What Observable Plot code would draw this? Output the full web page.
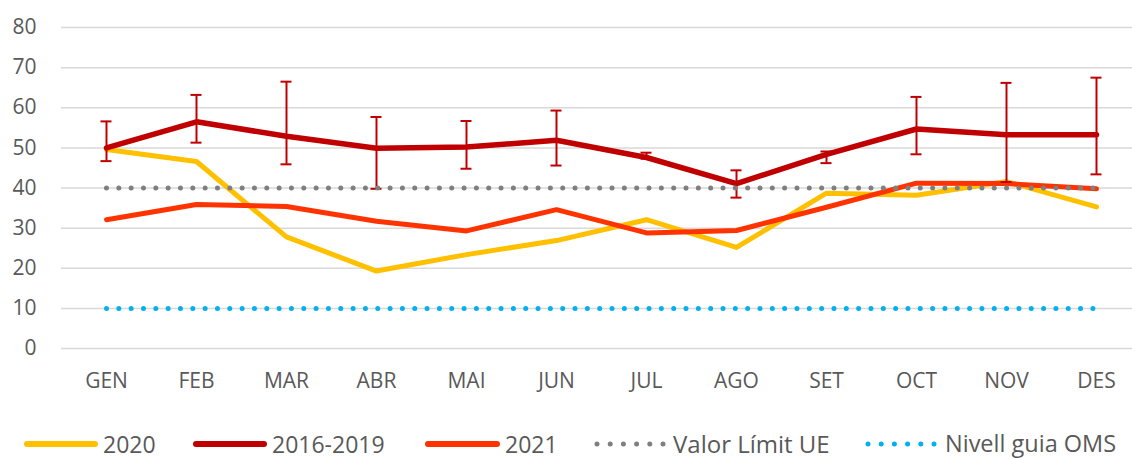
<!DOCTYPE html>
<html>
<head>
<meta charset="utf-8">
<script src="https://cdn.jsdelivr.net/npm/d3@7"></script>
<script src="https://cdn.jsdelivr.net/npm/@observablehq/plot@0.6"></script>
<style>
  html, body { margin: 0; padding: 0; background: #fff; }
  #wrap { width: 1132px; height: 459px; position: relative; font-family: "Open Sans", sans-serif; color: #595959; }
  #legend { position: relative; height: 34px; top: 2px; }
  .item { position: absolute; top: 0; height: 34px; display: flex; align-items: center; }
  .item svg { display: block; }
  .lab { font-size: 23px; line-height: 1; color: #595959; white-space: nowrap; }
</style>
</head>
<body>
<div id="wrap">
  <div id="chart"></div>
  <div id="legend"></div>
</div>
<script>
const months = ["GEN","FEB","MAR","ABR","MAI","JUN","JUL","AGO","SET","OCT","NOV","DES"];
const yTicks = [0, 10, 20, 30, 40, 50, 60, 70, 80];
const v2020 = [49.6, 46.6, 27.8, 19.3, 23.4, 26.9, 32.1, 25.2, 38.7, 38.2, 41.6, 35.3];
const v1619 = [50.0, 56.5, 52.9, 49.9, 50.2, 51.9, 47.6, 41.1, 48.4, 54.7, 53.3, 53.3];
const errLow = [46.7, 51.3, 45.9, 39.8, 44.8, 45.6, 47.3, 37.6, 46.2, 48.4, 41.5, 43.4];
const errHigh = [56.6, 63.2, 66.5, 57.7, 56.7, 59.3, 48.8, 44.4, 49.1, 62.7, 66.2, 67.5];
const v2021 = [32.1, 35.9, 35.4, 31.7, 29.3, 34.6, 28.8, 29.4, 35.2, 41.2, 41.1, 39.8];
const limitUE = 40;
const guiaOMS = 10;

const seriesNames = ["2020", "2016-2019", "2021", "Valor Límit UE", "Nivell guia OMS"];
const colors = ["#FFC000", "#C00000", "#FF3300", "#7F7F7F", "#00B0F0"];

const rows = (vals) => months.map((m, i) => ({month: m, value: vals[i]}));
const errRows = months.map((m, i) => ({month: m, lo: errLow[i], hi: errHigh[i]}));
const ueRows = months.map(m => ({month: m, value: limitUE}));
const omsRows = months.map(m => ({month: m, value: guiaOMS}));

const chart = Plot.plot({
  width: 1132,
  height: 425,
  marginLeft: 61,
  marginRight: 0,
  marginTop: 27,
  marginBottom: 77,
  style: {fontFamily: "'Open Sans', sans-serif", color: "#595959", background: "#fff"},
  x: {type: "point", domain: months, range: [106, 1096], padding: 0},
  y: {domain: [0, 80]},
  marks: [
    Plot.gridY(yTicks, {stroke: "#D9D9D9", strokeOpacity: 1, strokeWidth: 1.5}),
    Plot.axisY(yTicks, {tickSize: 0, tickPadding: 25, fontSize: 21, fill: "#595959", label: null}),
    Plot.axisX({tickSize: 0, tickPadding: 24.5, fontSize: 21, fill: "#595959", label: null}),
    Plot.line(rows(v2020), {x: "month", y: "value", stroke: colors[0], strokeWidth: 5, strokeLinejoin: "round", strokeLinecap: "round"}),
    Plot.line(rows(v1619), {x: "month", y: "value", stroke: colors[1], strokeWidth: 5.5, strokeLinejoin: "round", strokeLinecap: "round"}),
    Plot.line(rows(v2021), {x: "month", y: "value", stroke: colors[2], strokeWidth: 5, strokeLinejoin: "round", strokeLinecap: "round"}),
    Plot.ruleX(errRows, {x: "month", y1: "lo", y2: "hi", stroke: colors[1], strokeWidth: 2}),
    Plot.ruleY(errRows, {x1: "month", x2: "month", y: "lo", stroke: colors[1], strokeWidth: 2, insetLeft: -5.5, insetRight: -5.5}),
    Plot.ruleY(errRows, {x1: "month", x2: "month", y: "hi", stroke: colors[1], strokeWidth: 2, insetLeft: -5.5, insetRight: -5.5}),
    Plot.line(ueRows, {x: "month", y: "value", stroke: colors[3], strokeWidth: 5, strokeLinecap: "round", strokeDasharray: "0 12.33"}),
    Plot.line(omsRows, {x: "month", y: "value", stroke: colors[4], strokeWidth: 5, strokeLinecap: "round", strokeDasharray: "0 12.33"})
  ]
});
document.getElementById("chart").appendChild(chart);

// Legend
const legendLayout = [
  {sw: 27, tx: 103, dotted: false, fs: 23},
  {sw: 196, tx: 272, dotted: false, fs: 23},
  {sw: 428, tx: 505, dotted: false, fs: 23},
  {sw: 597, tx: 673, dotted: true, fs: 24},
  {sw: 868, tx: 945, dotted: true, fs: 23.5}
];
const legend = document.getElementById("legend");
seriesNames.forEach((name, i) => {
  const L = legendLayout[i];
  const sw = document.createElement("div");
  sw.className = "item";
  sw.style.left = (L.sw - 4) + "px";
  const w = L.tx - L.sw - 8;
  sw.innerHTML = L.dotted
    ? `<svg width="${w + 8}" height="12"><line x1="4" y1="6" x2="${w + 4}" y2="6" stroke="${colors[i]}" stroke-width="5" stroke-linecap="round" stroke-dasharray="0 13.2"/></svg>`
    : `<svg width="${w + 8}" height="12"><line x1="4" y1="6" x2="${w + 4}" y2="6" stroke="${colors[i]}" stroke-width="6" stroke-linecap="round"/></svg>`;
  legend.appendChild(sw);
  const t = document.createElement("div");
  t.className = "item lab";
  t.style.left = L.tx + "px";
  t.style.fontSize = L.fs + "px";
  t.textContent = name;
  legend.appendChild(t);
});
</script>
</body>
</html>
